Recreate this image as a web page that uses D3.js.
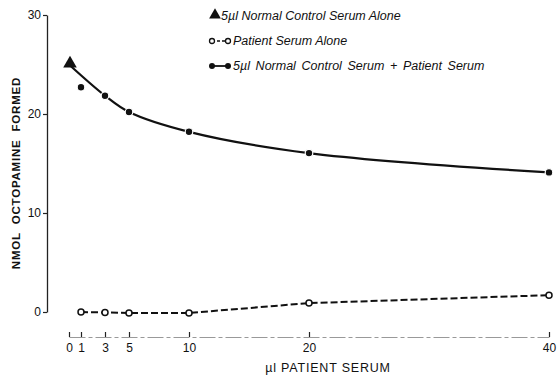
<!DOCTYPE html>
<html>
<head>
<meta charset="utf-8">
<script src="https://cdn.jsdelivr.net/npm/d3@7"></script>
<style>
  html, body { margin: 0; padding: 0; background: #fff; }
  svg text { font-family: "Liberation Sans", Arial, sans-serif; fill: #111; }
</style>
</head>
<body>
<svg id="chart" width="559" height="378"></svg>
<script>
// Patient serum volume (µl) on the x axis
const xTicks = [0, 1, 3, 5, 10, 20, 40];
const yTicks = [0, 10, 20, 30];

// 5 µl normal control serum alone
const controlAlone = [{ x: 0, y: 25.0 }];

// Patient serum alone
const patientX = [1, 3, 5, 10, 20, 40];
const patientY = [0.0, -0.05, -0.1, -0.1, 0.9, 1.7];

// 5 µl normal control serum + patient serum
const mixX = [1, 3, 5, 10, 20, 40];
const mixY = [22.7, 21.85, 20.2, 18.2, 16.05, 14.1];

// the fitted curve runs from the control value through the mixtures (x = 1 lies off it)
const curveX = [0, 3, 5, 10, 20, 40];
const curveY = [25.0, 21.85, 20.2, 18.2, 16.05, 14.1];

const svg = d3.select("#chart");
const x = d3.scaleLinear().domain([0, 40]).range([69, 549]);
const y = d3.scaleLinear().domain([0, 30]).range([312, 15]);

// y axis
const yAxis = svg.append("g")
  .attr("transform", `translate(47,0)`)
  .call(d3.axisLeft(y).tickValues(yTicks).tickSizeInner(4).tickSizeOuter(0).tickPadding(2));
yAxis.select(".domain").attr("stroke", "#222").attr("stroke-width", 1.3);
yAxis.selectAll(".tick line").attr("stroke", "#222").attr("stroke-width", 1.2);
yAxis.selectAll(".tick text").attr("font-size", 12).style("fill", "#111");

// x axis, ticks pointing up
const xAxis = svg.append("g")
  .attr("transform", `translate(0,337)`)
  .call(d3.axisBottom(x).tickValues(xTicks).tickSizeInner(-5).tickSizeOuter(0).tickPadding(6));
xAxis.select(".domain").attr("stroke", "#999").attr("stroke-width", 1).attr("stroke-dasharray", "16,3,4,3");
xAxis.selectAll(".tick line").attr("stroke", "#222").attr("stroke-width", 1.2);
xAxis.selectAll(".tick text").attr("font-size", 12).style("fill", "#111");

// axis titles
svg.append("text")
  .attr("transform", "translate(20,173) rotate(-90)")
  .attr("text-anchor", "middle")
  .attr("font-size", 11.5)
  .attr("font-weight", "bold")
  .attr("letter-spacing", 0.8)
  .attr("word-spacing", 4)
  .text("NMOL OCTOPAMINE FORMED");

svg.append("text")
  .attr("x", 328).attr("y", 372)
  .attr("text-anchor", "middle")
  .attr("font-size", 12.5)
  .attr("letter-spacing", 0.8)
  .text("µl PATIENT SERUM");

// solid curve for the mixtures
const curveData = curveX.map((d, i) => ({ x: d, y: curveY[i] }));
svg.append("path")
  .datum(curveData)
  .attr("fill", "none")
  .attr("stroke", "#111")
  .attr("stroke-width", 2.2)
  .attr("d", d3.line().x(d => x(d.x)).y(d => y(d.y)).curve(d3.curveCatmullRom.alpha(0.5)));

// dashed line for patient serum alone
const patientData = patientX.map((d, i) => ({ x: d, y: patientY[i] }));
svg.append("path")
  .datum(patientData)
  .attr("fill", "none")
  .attr("stroke", "#111")
  .attr("stroke-width", 2)
  .attr("stroke-dasharray", "7,3")
  .attr("d", d3.line().x(d => x(d.x)).y(d => y(d.y)));

// mixture points
const mixData = mixX.map((d, i) => ({ x: d, y: mixY[i] }));
svg.selectAll(".mix").data(mixData).join("circle")
  .attr("class", "mix")
  .attr("cx", d => x(d.x)).attr("cy", d => y(d.y))
  .attr("r", 3.8)
  .attr("fill", "#111")
  .attr("stroke", "#fff").attr("stroke-width", 1.2);

// patient points
svg.selectAll(".pat").data(patientData).join("circle")
  .attr("class", "pat")
  .attr("cx", d => x(d.x)).attr("cy", d => y(d.y))
  .attr("r", 3)
  .attr("fill", "#fff")
  .attr("stroke", "#111").attr("stroke-width", 1.5);

// control point
const tri = d3.symbol().type(d3.symbolTriangle).size(80);
svg.selectAll(".ctl").data(controlAlone).join("path")
  .attr("class", "ctl")
  .attr("transform", d => `translate(${x(d.x) + 1},${y(d.y) - 1})`)
  .attr("d", tri())
  .attr("fill", "#111");

// legend
const legend = svg.append("g");
const legendText = [
  "5µl Normal Control Serum Alone",
  "Patient Serum Alone",
  "5µl Normal Control Serum + Patient Serum"
];
const rowY = [16, 41, 66];
const rowWordSpacing = [0, 0, 2.2];

legend.append("path")
  .attr("transform", `translate(215,${rowY[0] - 1})`)
  .attr("d", d3.symbol().type(d3.symbolTriangle).size(60)())
  .attr("fill", "#111");

legend.append("line")
  .attr("x1", 212).attr("x2", 228).attr("y1", rowY[1]).attr("y2", rowY[1])
  .attr("stroke", "#111").attr("stroke-width", 1.5).attr("stroke-dasharray", "3,2");
legend.selectAll(".lo").data([212, 228]).join("circle")
  .attr("cx", d => d).attr("cy", rowY[1]).attr("r", 2.5)
  .attr("fill", "#fff").attr("stroke", "#111").attr("stroke-width", 1.3);

legend.append("line")
  .attr("x1", 212).attr("x2", 228).attr("y1", rowY[2]).attr("y2", rowY[2])
  .attr("stroke", "#111").attr("stroke-width", 1.8);
legend.selectAll(".lf").data([212, 228]).join("circle")
  .attr("cx", d => d).attr("cy", rowY[2]).attr("r", 3)
  .attr("fill", "#111");

legend.selectAll(".lt").data(legendText).join("text")
  .attr("x", (d, i) => i === 0 ? 221 : 233)
  .attr("y", (d, i) => rowY[i] + 4)
  .attr("font-size", 12.5)
  .attr("font-style", "italic")
  .attr("word-spacing", (d, i) => rowWordSpacing[i])
  .text(d => d);
</script>
</body>
</html>
